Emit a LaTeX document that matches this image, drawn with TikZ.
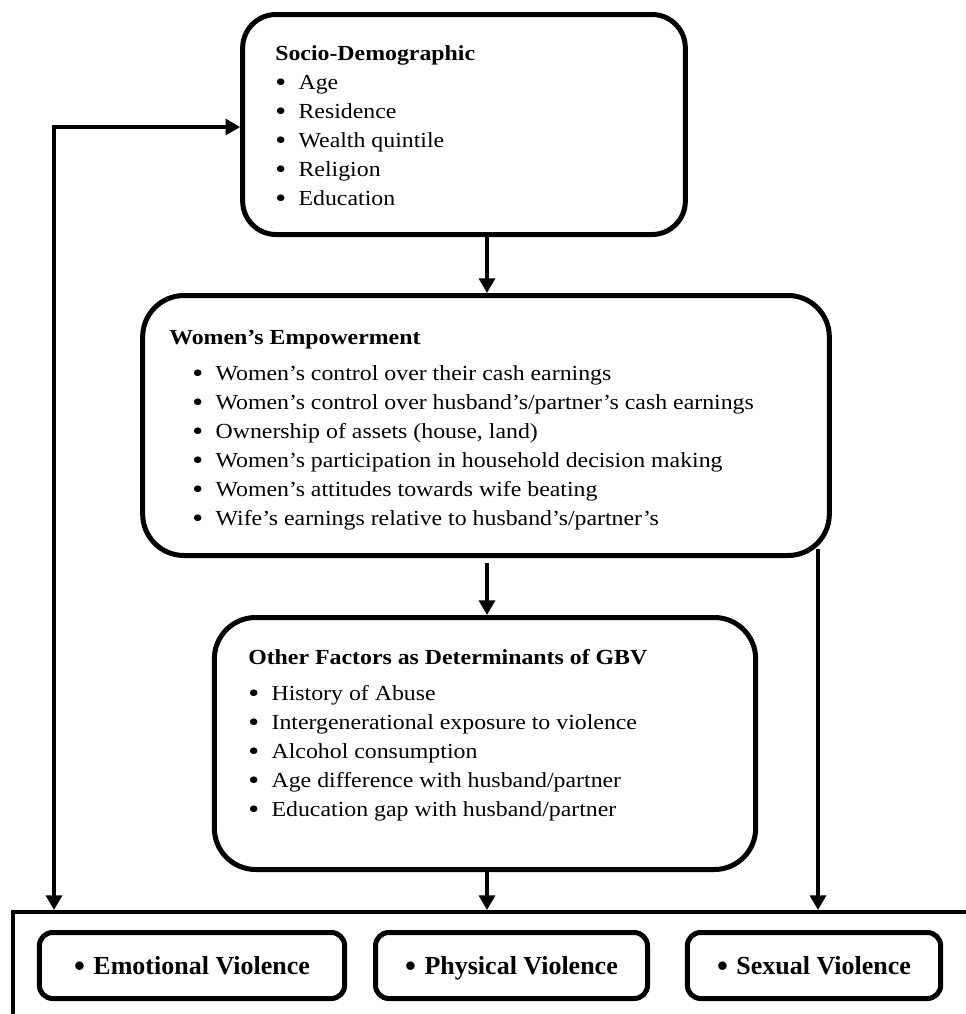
\documentclass[tikz,border=0pt]{standalone}
\usepackage{fontspec}
\setmainfont{Liberation Serif}[FakeStretch=1.11]
\newfontfamily\labelfont{Liberation Serif}
\usetikzlibrary{arrows.meta}
\newcommand{\bul}{\makebox[17.5pt][l]{\raisebox{-0.1em}{\scalebox{1.3}{\textbullet}}}}
\newcommand{\bbul}{\makebox[14.5pt][l]{\raisebox{-0.08em}{\scalebox{1.2}{\textbullet}}}}

\begin{document}
\begin{tikzpicture}[x=0.75pt,y=-0.75pt,
  tri/.tip={Triangle[length=11pt,width=12pt]},
  factor/.style={draw,line width=3.75pt,inner sep=0pt},
  outcome/.style={draw,line width=3.75pt,rounded corners=10pt,inner sep=0pt,
    minimum height=49.5pt,text height=13pt,text depth=0pt,
    font=\labelfont\bfseries\fontsize{19.5}{22}\selectfont},
  item/.style={anchor=base west,inner sep=0pt,font=\fontsize{16.1}{20}\selectfont},
  title/.style={item,font=\bfseries\fontsize{16.1}{20}\selectfont},
  link/.style={line width=2.5pt,-tri}
]
\useasboundingbox (0,0) rectangle (966,1014);
\clip (0,0) rectangle (966,1014);

% Boxes
\node[factor,rounded corners=25pt,minimum width=332pt,minimum height=165pt] (socio) at (464,124.5) {};
\node[factor,rounded corners=31pt,minimum width=515pt,minimum height=195pt] (emp) at (486,425.5) {};
\node[factor,rounded corners=31pt,minimum width=406pt,minimum height=189pt] (other) at (485,743.5) {};
\node[draw,line width=3pt,inner sep=0pt,anchor=north west,minimum width=800pt,minimum height=120pt] (gbv) at (11,910) {};

% Socio-demographic
\node[title] (socio-t) at (275,60) {Socio-Demographic};
\foreach \txt [count=\i] in {Age,Residence,Wealth quintile,Religion,Education}
  \node[item] (socio-\i) at (275,{60+29*\i}) {\bul\txt};

% Women's empowerment
\node[title] (emp-t) at (169,344) {Women’s Empowerment};
\foreach \txt [count=\i] in {Women’s control over their cash earnings,
    Women’s control over husband’s/partner’s cash earnings,
    {Ownership of assets (house, land)},
    Women’s participation in household decision making,
    Women’s attitudes towards wife beating,
    Wife’s earnings relative to husband’s/partner’s}
  \node[item] (emp-\i) at (192,{351+29*\i}) {\bul\txt};

% Other factors
\node[title] (other-t) at (248,664) {Other Factors as Determinants of GBV};
\foreach \txt [count=\i] in {History of Abuse,Intergenerational exposure to violence,
    Alcohol consumption,Age difference with husband/partner,Education gap with husband/partner}
  \node[item] (other-\i) at (248,{671+29*\i}) {\bul\txt};

% Types of violence
\node[outcome,minimum width=229pt] (emo) at (192,965.5) {\bbul Emotional Violence};
\node[outcome,minimum width=204pt] (phys) at (511.5,965.5) {\bbul Physical Violence};
\node[outcome,minimum width=190pt] (sex) at (814,965.5) {\bbul Sexual Violence};

% Arrows
\coordinate (spine) at (487,0);
\coordinate (lbend) at (54,127);
\coordinate (rdrop) at (818,549);
\draw[link] (socio.south -| spine) -- (emp.north -| spine);
\draw[link] (emp.south -| spine) ++(0,5) -- (other.north -| spine);
\draw[link] (other.south -| spine) -- (spine |- gbv.north);
\draw[link,tri-tri] (socio.west |- lbend) -| (lbend |- gbv.north);
\draw[link] (rdrop) -- (rdrop |- gbv.north);
\end{tikzpicture}
\end{document}
